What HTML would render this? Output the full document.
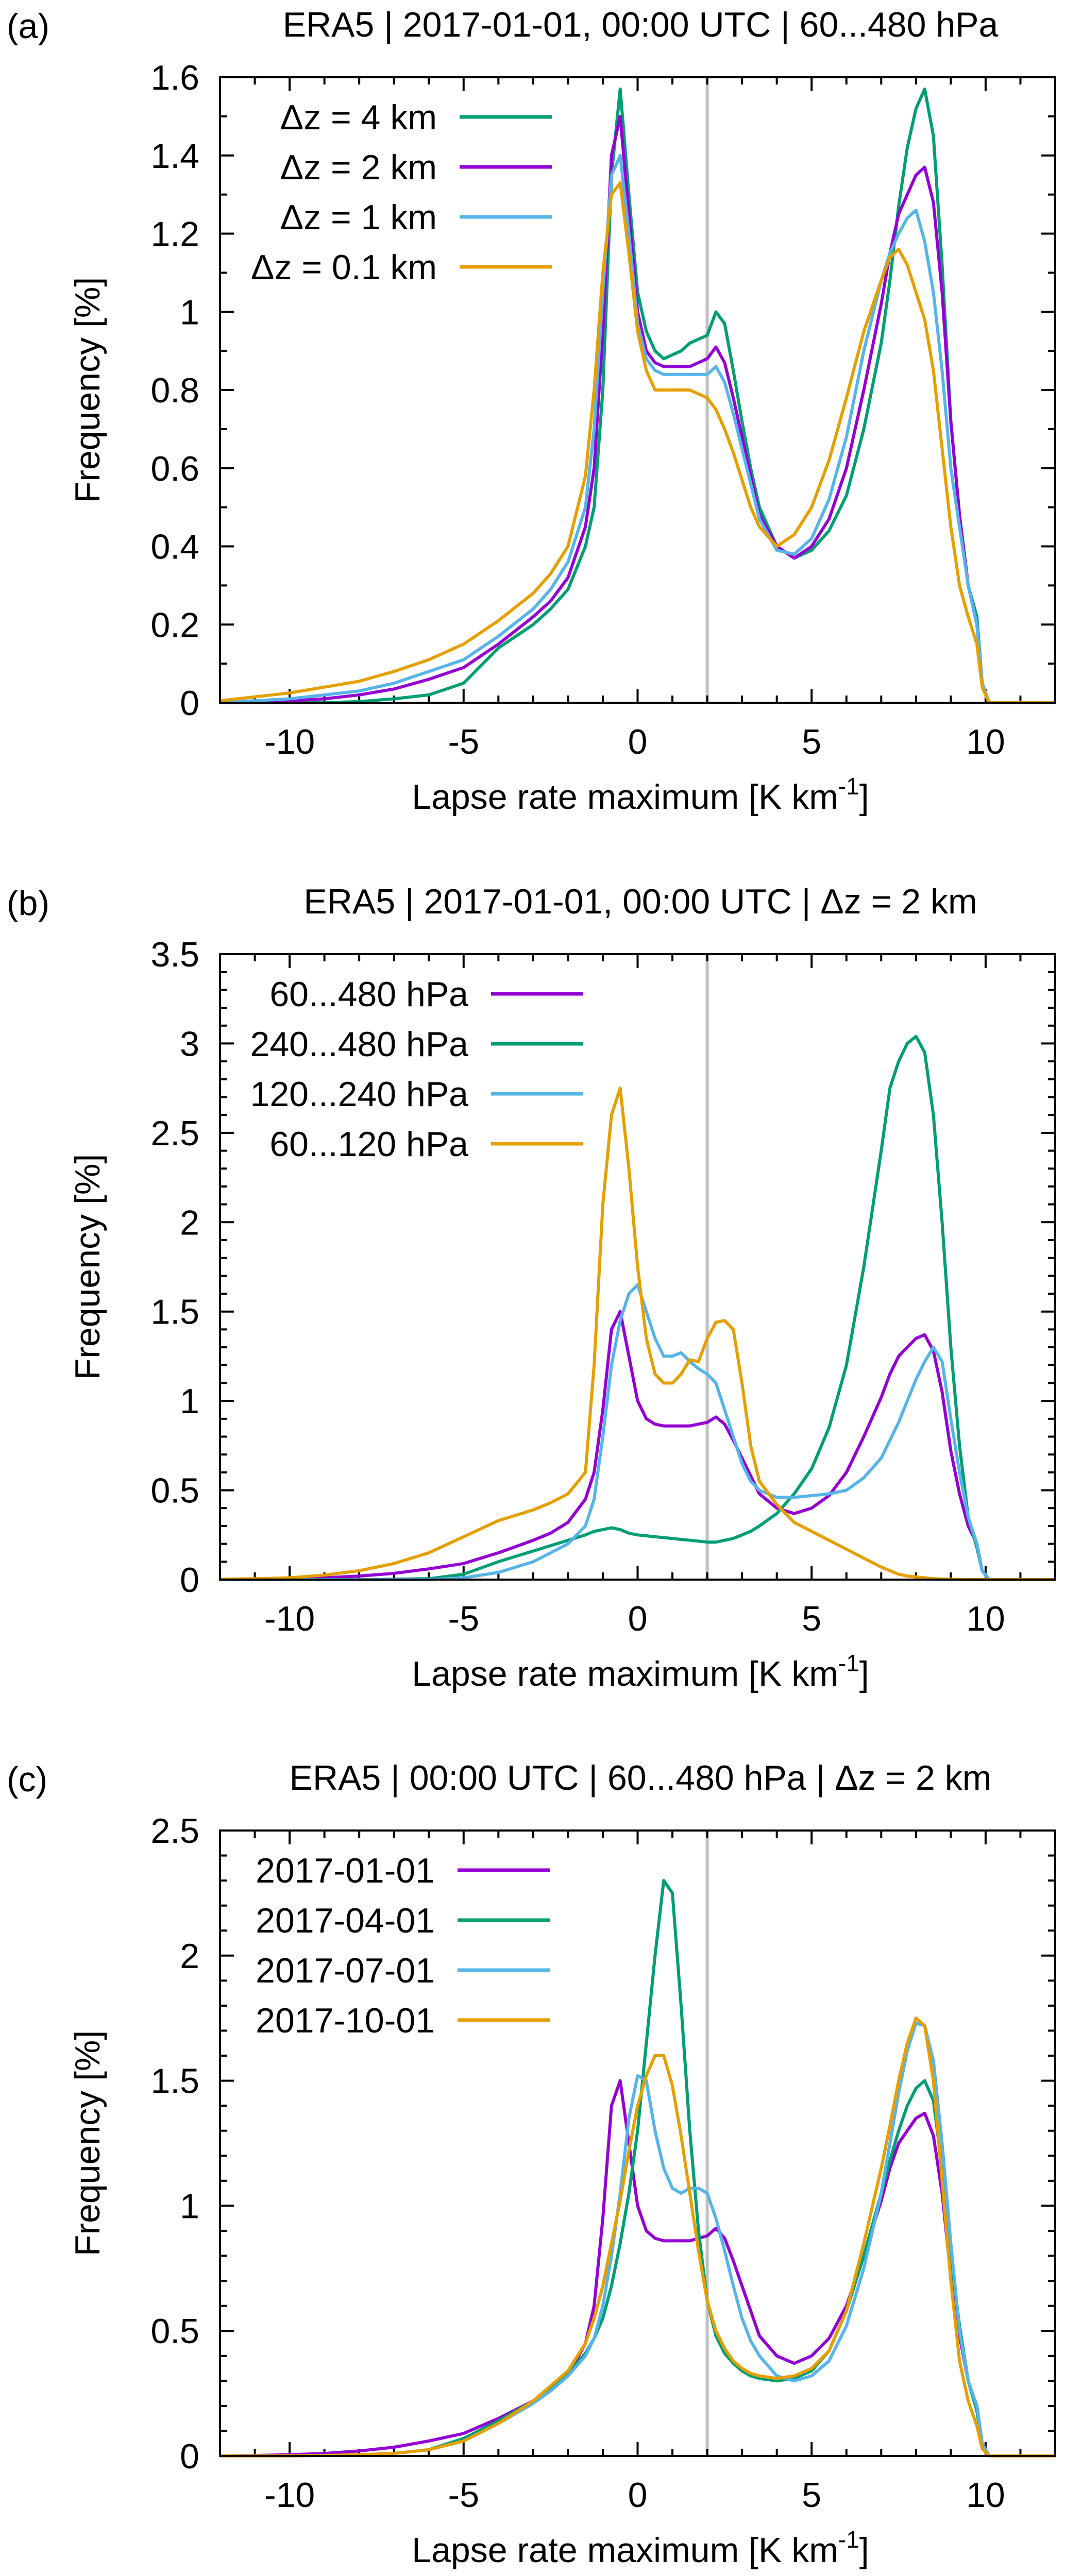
<!DOCTYPE html>
<html><head><meta charset="utf-8"><style>
html,body{margin:0;padding:0;background:#fff;overflow:hidden;}
svg{display:block;}
text{font-family:"Liberation Sans",Arial,sans-serif;fill:#000;}
</style></head><body>
<svg id="fig" width="2067" height="5004" viewBox="0 0 2067 5004" xmlns="http://www.w3.org/2000/svg"></svg>
<script>
const xs = [-12,-11,-10,-9,-8,-7,-6,-5,-4,-3,-2.5,-2,-1.5,-1.25,-1,-0.75,-0.5,-0.25,0,0.25,0.5,0.75,1,1.25,1.5,1.75,2,2.25,2.5,2.75,3,3.25,3.5,4,4.5,5,5.5,6,6.5,7,7.25,7.5,7.75,8,8.25,8.5,8.75,9,9.25,9.5,9.75,9.9,10.1,11,12];
const xTickLabels = [-10,-5,0,5,10];

const aGreen = [0,0,0,0,0.003,0.01,0.02,0.05,0.14,0.2,0.24,0.29,0.4,0.5,0.8,1.35,1.57,1.3,1.05,0.95,0.9,0.88,0.89,0.9,0.92,0.93,0.94,1.0,0.97,0.85,0.72,0.6,0.5,0.4,0.37,0.39,0.44,0.53,0.7,0.92,1.08,1.27,1.42,1.52,1.57,1.45,1.12,0.72,0.48,0.3,0.22,0.05,0,0,0];
const aPurple = [0,0.002,0.005,0.01,0.02,0.035,0.06,0.09,0.15,0.22,0.26,0.32,0.45,0.6,0.95,1.4,1.5,1.25,1.0,0.9,0.87,0.86,0.86,0.86,0.86,0.87,0.88,0.91,0.87,0.78,0.68,0.58,0.48,0.4,0.37,0.4,0.47,0.6,0.8,1.02,1.15,1.25,1.3,1.35,1.37,1.28,1.05,0.72,0.48,0.3,0.2,0.05,0,0,0];
const aBlue = [0.002,0.005,0.01,0.02,0.03,0.05,0.08,0.11,0.17,0.24,0.29,0.36,0.5,0.7,1.05,1.35,1.4,1.2,0.97,0.88,0.85,0.84,0.84,0.84,0.84,0.84,0.84,0.86,0.82,0.74,0.65,0.56,0.47,0.39,0.38,0.42,0.52,0.68,0.9,1.08,1.15,1.2,1.24,1.26,1.18,1.05,0.85,0.6,0.45,0.3,0.2,0.05,0,0,0];
const aOrange = [0.005,0.015,0.025,0.04,0.055,0.08,0.11,0.15,0.21,0.28,0.33,0.4,0.58,0.8,1.1,1.3,1.33,1.15,0.95,0.85,0.8,0.8,0.8,0.8,0.8,0.79,0.78,0.75,0.7,0.64,0.57,0.5,0.45,0.4,0.43,0.5,0.62,0.78,0.95,1.08,1.14,1.16,1.12,1.05,0.98,0.85,0.65,0.45,0.3,0.22,0.15,0.04,0,0,0];

const bGreen = [0,0,0,0,0,0.002,0.005,0.03,0.1,0.16,0.19,0.22,0.25,0.27,0.28,0.29,0.28,0.26,0.25,0.245,0.24,0.235,0.23,0.225,0.22,0.215,0.21,0.21,0.22,0.23,0.25,0.27,0.3,0.37,0.48,0.62,0.85,1.2,1.75,2.4,2.75,2.9,3.0,3.04,2.95,2.6,2.0,1.3,0.75,0.35,0.18,0.05,0,0,0];
const bBlue = [0,0,0,0,0,0,0,0.01,0.04,0.1,0.15,0.2,0.3,0.45,0.8,1.2,1.45,1.6,1.65,1.5,1.35,1.25,1.25,1.27,1.22,1.18,1.15,1.1,0.95,0.8,0.65,0.55,0.5,0.46,0.46,0.47,0.48,0.5,0.57,0.68,0.78,0.88,1.0,1.12,1.22,1.3,1.22,0.9,0.6,0.35,0.2,0.05,0,0,0];
const bOrange = [0.002,0.005,0.01,0.025,0.05,0.09,0.15,0.24,0.33,0.39,0.43,0.48,0.6,1.2,2.1,2.6,2.75,2.3,1.75,1.35,1.15,1.1,1.1,1.15,1.23,1.22,1.35,1.44,1.45,1.4,1.1,0.75,0.55,0.42,0.32,0.27,0.22,0.17,0.12,0.07,0.05,0.03,0.02,0.015,0.01,0.005,0.003,0.002,0.001,0,0,0,0,0,0];

const cGreen = [0,0,0,0.002,0.005,0.01,0.025,0.07,0.14,0.22,0.27,0.33,0.41,0.47,0.55,0.68,0.85,1.05,1.3,1.65,2.0,2.3,2.25,1.8,1.3,0.9,0.62,0.48,0.41,0.37,0.34,0.32,0.31,0.3,0.31,0.34,0.42,0.58,0.8,1.05,1.18,1.3,1.4,1.47,1.5,1.42,1.15,0.8,0.52,0.3,0.18,0.04,0,0,0];
const cBlue = [0,0,0,0.002,0.005,0.01,0.025,0.06,0.13,0.21,0.26,0.32,0.4,0.47,0.6,0.8,1.05,1.35,1.52,1.5,1.3,1.15,1.07,1.05,1.07,1.07,1.05,0.95,0.82,0.68,0.55,0.46,0.4,0.32,0.3,0.32,0.38,0.52,0.75,1.05,1.25,1.45,1.62,1.73,1.72,1.58,1.25,0.85,0.5,0.3,0.2,0.05,0,0,0];
const cOrange = [0,0,0,0.002,0.005,0.01,0.025,0.06,0.13,0.22,0.28,0.34,0.45,0.55,0.68,0.85,1.02,1.22,1.4,1.52,1.6,1.6,1.48,1.28,1.05,0.82,0.62,0.5,0.43,0.38,0.35,0.33,0.32,0.31,0.32,0.35,0.42,0.58,0.85,1.15,1.32,1.5,1.65,1.75,1.72,1.5,1.1,0.7,0.38,0.22,0.12,0.03,0,0,0];

const aYTicks = ["0","0.2","0.4","0.6","0.8","1","1.2","1.4","1.6"];
const bYTicks = ["0","0.5","1","1.5","2","2.5","3","3.5"];
const cYTicks = ["0","0.5","1","1.5","2","2.5"];
const aLegend = ["Δz = 4 km","Δz = 2 km","Δz = 1 km","Δz = 0.1 km"];
const bLegend = ["60...480 hPa","240...480 hPa","120...240 hPa","60...120 hPa"];
const cLegend = ["2017-01-01","2017-04-01","2017-07-01","2017-10-01"];

const GREEN="#009e73", PURPLE="#9400d3", BLUE="#56b4e9", ORANGE="#e69f00";
const NS="http://www.w3.org/2000/svg";
const svg=document.getElementById('fig');
function mk(tag,attrs,parent){const e=document.createElementNS(NS,tag);for(const k in attrs)e.setAttribute(k,attrs[k]);(parent||svg).appendChild(e);return e;}

const L=427,R=2048,H=1214;
function xScale(v){return L+(v+12)/24*(R-L);}

function panel(opt){
  const T=opt.top,B=T+H;
  const g=mk('g',{});
  
  
  const yS=v=>B-v/opt.ymax*H;
  let t=mk('text',{x:13,y:T-76,'font-size':68},g);t.textContent=opt.tag;
  
  
  t=mk('text',{x:1243,y:T-79,'font-size':68,'text-anchor':'middle'},g);t.textContent=opt.title;
  
  
  const gl=mk('line',{x1:xScale(2),x2:xScale(2),y1:T,y2:B,stroke:'#c0c0c0','stroke-width':6},g);
  
  
  const tk=mk('g',{stroke:'#000','stroke-width':4},g);
  
  
  for(let v=-11;v<=11;v++){
    const x=xScale(v),len=(v%5===0)?27:14;
    mk('line',{x1:x,x2:x,y1:B,y2:B-len},tk);mk('line',{x1:x,x2:x,y1:T,y2:T+len},tk);
  }
  const nMinor=Math.round(opt.ymax/opt.minor);
  for(let i=1;i<nMinor;i++){
    const v=i*opt.minor,y=yS(v);
    const major=Math.abs(v/opt.major-Math.round(v/opt.major))<1e-6;
    const len=major?27:14;
    mk('line',{x1:L,x2:L+len,y1:y,y2:y},tk);mk('line',{x1:R,x2:R-len,y1:y,y2:y},tk);
  }
  opt.yticks.forEach((lab,i)=>{
    const tt=mk('text',{x:387,y:yS(i*opt.major)+24,'font-size':68,'text-anchor':'end'},g);tt.textContent=lab;
    
    
  });
  xTickLabels.forEach(v=>{
    const tt=mk('text',{x:xScale(v),y:B+99,'font-size':68,'text-anchor':'middle'},g);tt.textContent=v;
    
    
  });
  opt.series.forEach((s,si)=>{
    const pts=xs.map((x,i)=>xScale(x).toFixed(1)+','+yS(s.data[i]).toFixed(1)).join(' ');
    const pl=mk('polyline',{points:pts,fill:'none',stroke:s.color,'stroke-width':6,'stroke-linejoin':'round'},g);
    
    
  });
  opt.legend.forEach((lab,i)=>{
    const y=T+77+i*97;
    const lg=mk('g',{},g);
    
    
    const tt=mk('text',{x:opt.legX,y:y+24,'font-size':68,'text-anchor':'end'},lg);tt.textContent=lab;
    mk('line',{x1:opt.legX+44,x2:opt.legX+223,y1:y,y2:y,stroke:opt.legColors[i],'stroke-width':7},lg);
  });
  const fr=mk('rect',{x:L,y:T,width:R-L,height:H,fill:'none',stroke:'#000','stroke-width':4},g);
  
  
  t=mk('text',{x:0,y:0,'font-size':68,'text-anchor':'middle',transform:`translate(193,${(T+B)/2}) rotate(-90)`},g);
  t.textContent='Frequency [%]';
  
  
  t=mk('text',{x:1243,y:B+206,'font-size':68,'text-anchor':'middle'},g);
  
  
  t.innerHTML='Lapse rate maximum [K km<tspan dy="-28" font-size="46">-1</tspan><tspan dy="28">]</tspan>';
}

panel({name:'panel-a',tag:'(a)',top:150,ymax:1.6,major:0.2,minor:0.1,yticks:aYTicks,
  title:'ERA5 | 2017-01-01, 00:00 UTC | 60...480 hPa',legX:848,legend:aLegend,
  legColors:[GREEN,PURPLE,BLUE,ORANGE],
  series:[{data:aGreen,color:GREEN},{data:aPurple,color:PURPLE},{data:aBlue,color:BLUE},{data:aOrange,color:ORANGE}]});
panel({name:'panel-b',tag:'(b)',top:1852,ymax:3.5,major:0.5,minor:0.1,yticks:bYTicks,
  title:'ERA5 | 2017-01-01, 00:00 UTC | Δz = 2 km',legX:909,legend:bLegend,
  legColors:[PURPLE,GREEN,BLUE,ORANGE],
  series:[{data:aPurple,color:PURPLE},{data:bGreen,color:GREEN},{data:bBlue,color:BLUE},{data:bOrange,color:ORANGE}]});
panel({name:'panel-c',tag:'(c)',top:3553,ymax:2.5,major:0.5,minor:0.1,yticks:cYTicks,
  title:'ERA5 | 00:00 UTC | 60...480 hPa | Δz = 2 km',legX:844,legend:cLegend,
  legColors:[PURPLE,GREEN,BLUE,ORANGE],
  series:[{data:aPurple,color:PURPLE},{data:cGreen,color:GREEN},{data:cBlue,color:BLUE},{data:cOrange,color:ORANGE}]});
</script>
</body></html>
